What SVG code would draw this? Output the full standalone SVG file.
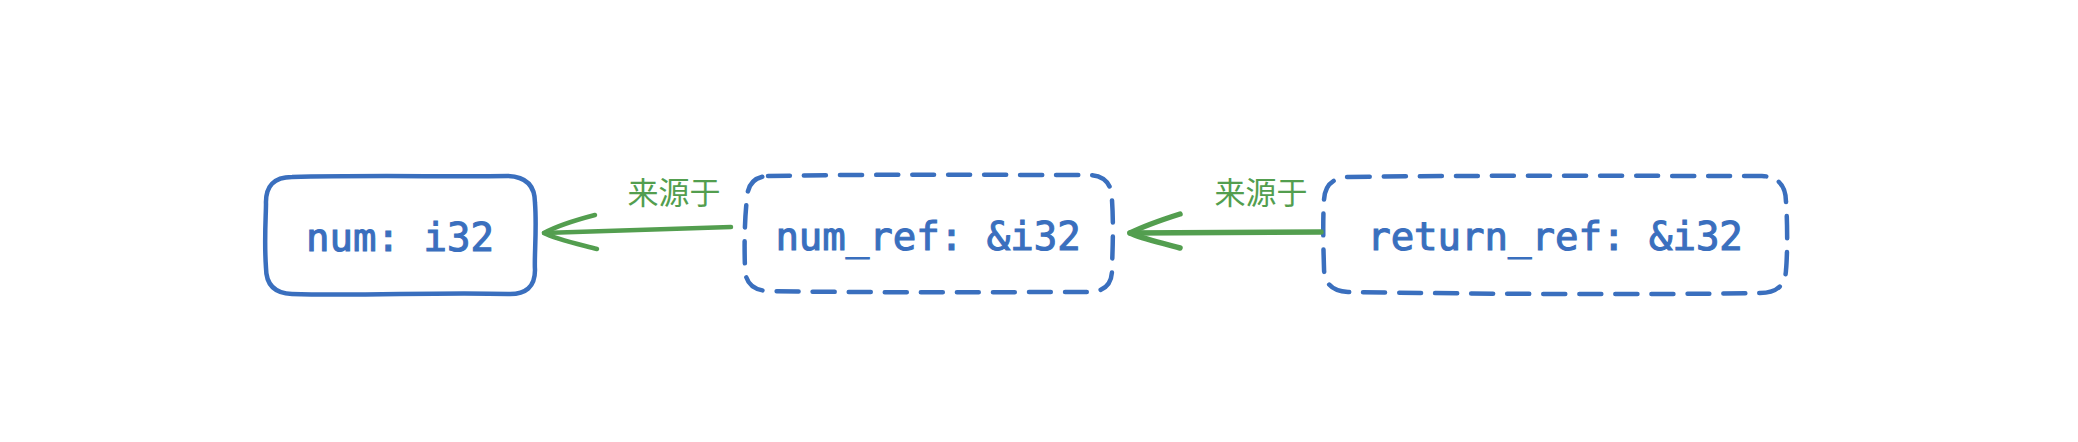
<svg xmlns="http://www.w3.org/2000/svg" width="2078" height="442" viewBox="0 0 2078 442">
<style>
.box{fill:none;stroke:#3a6fbe;stroke-width:4.5;stroke-linecap:round;stroke-linejoin:round}
.dash{stroke-dasharray:22 14}
.lbl{font-family:"DejaVu Sans Mono","Liberation Mono",monospace;font-size:39px;font-weight:normal;fill:#3a6fbe;stroke:#3a6fbe;stroke-width:1.1;text-anchor:middle}
.edge{fill:none;stroke:#539e4f;stroke-linecap:round;stroke-linejoin:round}
.elbl{font-family:"Noto Sans CJK SC","Noto Sans",sans-serif;font-size:31px;fill:#539e4f;text-anchor:middle}
</style>
<rect width="2078" height="442" fill="#ffffff"/>
<g id="node-num">
<path class="box" d="M 292 177 C 370 175, 450 177, 508 176 Q 535 177 535 203 C 537 230, 534 258, 535 270 Q 535 295 508 294 C 440 292, 360 296, 292 294 Q 266 293 266 268 C 264 240, 266 215, 266 204 Q 265 177 292 177 Z"/>
<text class="lbl" x="400" y="251">num: i32</text>
</g>
<g id="node-num_ref">
<path class="box dash" d="M 768 176 C 880 174, 1000 175, 1090 175 Q 1112 176 1112 200 C 1114 230, 1112 260, 1112 270 Q 1112 292 1088 292 C 1000 292, 880 293, 768 291 Q 745 290 745 268 C 744 240, 745 215, 747 198 Q 748 177 768 176 Z"/>
<text class="lbl" x="928" y="250">num_ref: &amp;i32</text>
</g>
<g id="node-return_ref">
<path class="box dash" d="M 1348 177 C 1480 175, 1640 176, 1762 176 Q 1786 177 1786 202 C 1788 230, 1787 260, 1786 270 Q 1785 293 1760 293 C 1640 295, 1480 294, 1348 292 Q 1324 291 1324 268 C 1323 240, 1323 215, 1324 200 Q 1325 178 1348 177 Z"/>
<text class="lbl" x="1555" y="250">return_ref: &amp;i32</text>
</g>
<g id="connectors">
<g id="edge-num_ref-num">
<path class="edge" stroke-width="4.5" d="M 731 227 C 660 229, 600 231, 544 233"/>
<path class="edge" stroke-width="4.5" d="M 595 215 C 572 221, 553 228, 544 233 C 555 239, 578 244, 597 249"/>
<text class="elbl" x="674" y="204">来源于</text>
</g>
<g id="edge-return_ref-num_ref">
<path class="edge" stroke-width="5.5" d="M 1321 232 C 1250 232, 1190 233, 1130 233"/>
<path class="edge" stroke-width="5.5" d="M 1180 214 C 1158 221, 1140 228, 1130 233 C 1142 239, 1163 243, 1180 248"/>
<text class="elbl" x="1261" y="204">来源于</text>
</g>
</g>
</svg>
